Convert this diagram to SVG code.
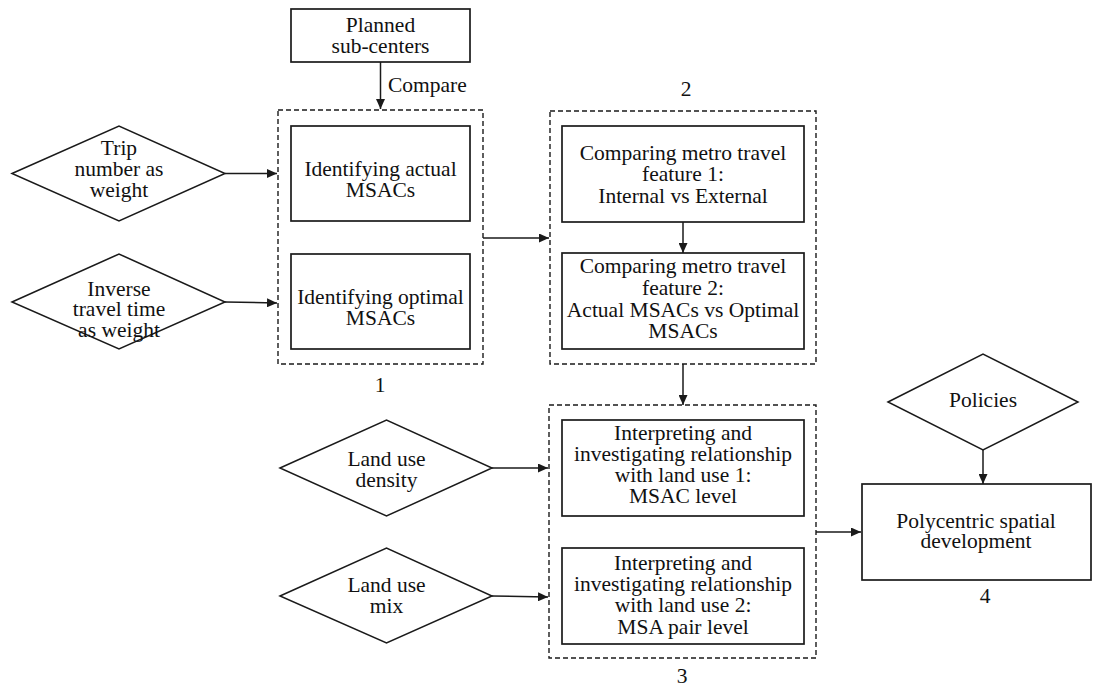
<svg xmlns="http://www.w3.org/2000/svg" width="1094" height="686" viewBox="0 0 1094 686" font-family="'Liberation Serif', 'DejaVu Serif', serif">
<defs>
<style>
.box{fill:#fff;stroke:#1a1a1a;stroke-width:1.7}
.dia{fill:#fff;stroke:#1a1a1a;stroke-width:1.5}
.grp{fill:none;stroke:#1a1a1a;stroke-width:1.4;stroke-dasharray:5,3}
.c{fill:none;stroke:#1a1a1a;stroke-width:1.5}
.t{font-family:'Liberation Serif','DejaVu Serif',serif;font-size:21.5px;fill:#111;text-anchor:middle}
.s{text-anchor:start}
</style>
<marker id="ah" markerWidth="10" markerHeight="9" refX="10" refY="4.5" orient="auto" markerUnits="userSpaceOnUse">
<path d="M0,0 L10,4.5 L0,9 z" fill="#1a1a1a"/>
</marker>
</defs>
<rect width="1094" height="686" fill="#fff"/>

<g id="group1">
<rect class="grp" x="278" y="110" width="205" height="254"/>
<text class="t" x="380" y="392">1</text>
</g>
<g id="group2">
<rect class="grp" x="550" y="111" width="266" height="253"/>
<text class="t" x="686" y="96">2</text>
</g>
<g id="group3">
<rect class="grp" x="549" y="405" width="267" height="253"/>
<text class="t" x="682" y="683">3</text>
</g>

<g id="planned">
<rect class="box" x="291" y="9" width="179" height="53"/>
<text class="t" x="380.5" y="32">Planned</text>
<text class="t" x="380.5" y="53">sub-centers</text>
</g>

<g id="trip">
<polygon class="dia" points="12,173.5 119,126 225,173.5 119,221"/>
<text class="t" x="119" y="155">Trip</text>
<text class="t" x="119" y="176">number as</text>
<text class="t" x="119" y="197">weight</text>
</g>
<g id="inverse">
<polygon class="dia" points="12,302 119,254 225,302 119,349"/>
<text class="t" x="119" y="296">Inverse</text>
<text class="t" x="119" y="316">travel time</text>
<text class="t" x="119" y="337">as weight</text>
</g>

<g id="actual">
<rect class="box" x="291" y="126" width="179" height="95"/>
<text class="t" x="380.5" y="176">Identifying actual</text>
<text class="t" x="380.5" y="197">MSACs</text>
</g>
<g id="optimal">
<rect class="box" x="291" y="254" width="179" height="95"/>
<text class="t" x="380.5" y="304">Identifying optimal</text>
<text class="t" x="380.5" y="325">MSACs</text>
</g>

<g id="feature1">
<rect class="box" x="562" y="126" width="242" height="96"/>
<text class="t" x="683" y="160">Comparing metro travel</text>
<text class="t" x="683" y="181">feature 1:</text>
<text class="t" x="683" y="203">Internal vs External</text>
</g>
<g id="feature2">
<rect class="box" x="562" y="253" width="242" height="96"/>
<text class="t" x="683" y="273">Comparing metro travel</text>
<text class="t" x="683" y="295">feature 2:</text>
<text class="t" x="683" y="317">Actual MSACs vs Optimal</text>
<text class="t" x="683" y="338">MSACs</text>
</g>

<g id="density">
<polygon class="dia" points="280,468 386.5,420 492,468 386.5,516"/>
<text class="t" x="386.5" y="466">Land use</text>
<text class="t" x="386.5" y="487">density</text>
</g>
<g id="mix">
<polygon class="dia" points="280,596 386.5,548 492,596 386.5,643"/>
<text class="t" x="386.5" y="592">Land use</text>
<text class="t" x="386.5" y="613">mix</text>
</g>

<g id="landuse1">
<rect class="box" x="562" y="420" width="242" height="96"/>
<text class="t" x="683" y="440">Interpreting and</text>
<text class="t" x="683" y="461">investigating relationship</text>
<text class="t" x="683" y="482">with land use 1:</text>
<text class="t" x="683" y="503">MSAC level</text>
</g>
<g id="landuse2">
<rect class="box" x="562" y="548" width="242" height="96"/>
<text class="t" x="683" y="570">Interpreting and</text>
<text class="t" x="683" y="591">investigating relationship</text>
<text class="t" x="683" y="612">with land use 2:</text>
<text class="t" x="683" y="634">MSA pair level</text>
</g>

<g id="policies">
<polygon class="dia" points="888,402 983,354 1078,402 983,450"/>
<text class="t" x="983" y="407">Policies</text>
</g>
<g id="polycentric">
<rect class="box" x="862" y="484" width="229" height="96"/>
<text class="t" x="976" y="528">Polycentric spatial</text>
<text class="t" x="976" y="548">development</text>
<text class="t" x="985" y="603">4</text>
</g>

<g id="connectors">
<line class="c" x1="380.5" y1="62" x2="380.5" y2="109" marker-end="url(#ah)"/>
<text class="t s" x="388" y="92">Compare</text>
<line class="c" x1="225" y1="173.5" x2="277" y2="173.5" marker-end="url(#ah)"/>
<line class="c" x1="225" y1="302" x2="277" y2="303" marker-end="url(#ah)"/>
<line class="c" x1="483" y1="238" x2="549" y2="238" marker-end="url(#ah)"/>
<line class="c" x1="683" y1="222" x2="683" y2="253" marker-end="url(#ah)"/>
<line class="c" x1="683" y1="364" x2="683" y2="405" marker-end="url(#ah)"/>
<line class="c" x1="492" y1="468" x2="548" y2="468" marker-end="url(#ah)"/>
<line class="c" x1="492" y1="596" x2="548" y2="597" marker-end="url(#ah)"/>
<line class="c" x1="983" y1="450" x2="983" y2="484" marker-end="url(#ah)"/>
<line class="c" x1="816" y1="532" x2="861" y2="532" marker-end="url(#ah)"/>
</g>
</svg>
